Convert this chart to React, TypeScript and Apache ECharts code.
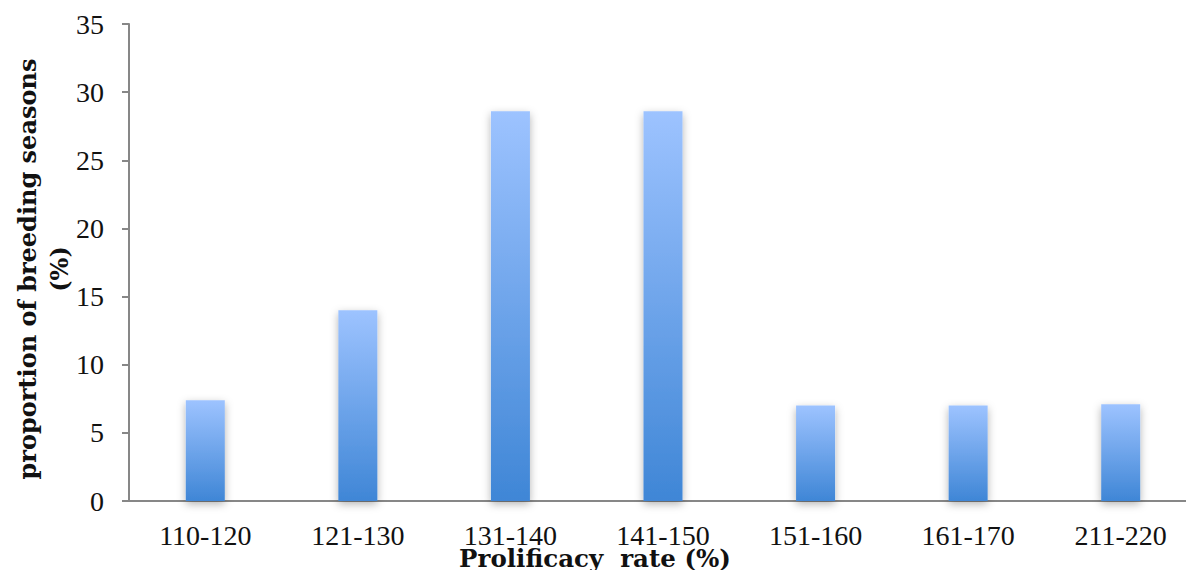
import React, { useEffect, useRef } from "react";
import * as echarts from "echarts";

const categories = ["110-120", "121-130", "131-140", "141-150", "151-160", "161-170", "211-220"];
const proportions = [7.4, 14.0, 28.6, 28.6, 7.0, 7.0, 7.1];
const yTicks = { min: 0, max: 35, interval: 5 };
const yTitle = "proportion of breeding seasons\n(%)";
const xTitle = "Prolificacy  rate (%)";

export default function App() {
  const ref = useRef<HTMLDivElement>(null);
  useEffect(() => {
    document.body.style.margin = "0";
    const chart = echarts.init(ref.current!, null, { renderer: "svg" });
    const font = "'Liberation Serif', 'Times New Roman', serif";
    const titleFont = "'DejaVu Serif', serif";
    chart.setOption({
      animation: false,
      backgroundColor: "#ffffff",
      grid: {
        left: 129,
        top: 24,
        height: 477,
        width: 1068,
        containLabel: false,
        outerBoundsMode: "none",
      },
      xAxis: {
        type: "category",
        data: categories,
        axisLine: { lineStyle: { color: "#878787", width: 2 } },
        axisTick: { show: false },
        axisLabel: { color: "#111", fontFamily: font, fontSize: 28, margin: 20 },
      },
      yAxis: {
        type: "value",
        min: yTicks.min,
        max: yTicks.max,
        interval: yTicks.interval,
        axisLine: { show: true, lineStyle: { color: "#878787", width: 2 } },
        axisTick: { show: true, length: 7, lineStyle: { color: "#878787", width: 2 } },
        splitLine: { show: false },
        axisLabel: { color: "#111", fontFamily: font, fontSize: 28, margin: 25 },
      },
      graphic: [
        {
          type: "text",
          x: 43,
          y: 269,
          rotation: Math.PI / 2,
          style: {
            text: yTitle,
            fontFamily: titleFont,
            fontSize: 24,
            fontWeight: "bold",
            fill: "#111",
            textAlign: "center",
            textVerticalAlign: "middle",
            lineHeight: 32,
          },
        },
        {
          type: "text",
          x: 595,
          y: 558,
          style: {
            text: xTitle,
            fontFamily: titleFont,
            fontSize: 24.5,
            fontWeight: "bold",
            fill: "#111",
            textAlign: "center",
            textVerticalAlign: "middle",
          },
        },
      ],
      series: [
        {
          type: "bar",
          data: proportions,
          barWidth: 39,
          itemStyle: {
            color: new echarts.graphic.LinearGradient(0, 0, 0, 1, [
              { offset: 0, color: "#9dc3ff" },
              { offset: 1, color: "#3f86d6" },
            ]),
            shadowBlur: 8,
            shadowOffsetY: 3,
            shadowColor: "rgba(0,0,0,0.3)",
          },
        },
      ],
    });
    return () => chart.dispose();
  }, []);
  return <div ref={ref} style={{ width: 1186, height: 570 }} />;
}
